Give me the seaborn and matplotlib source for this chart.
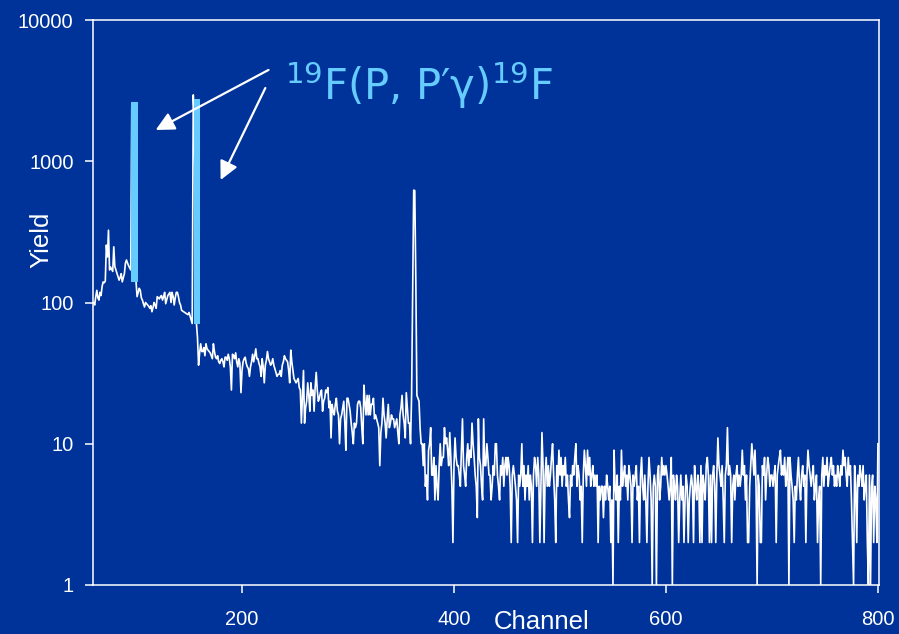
import numpy as np
import pandas as pd
import matplotlib
matplotlib.use("Agg")
import matplotlib.pyplot as plt
import seaborn as sns

# ---- data: counts per channel (channels 60..800) ----
counts_060 = [100, 96, 110, 122, 108, 104, 118, 112, 130, 140,
              138, 142, 255, 210, 325, 170, 178, 172, 166, 248,
              180, 170, 160, 152, 144, 150, 160, 140, 150, 160,
              190, 200, 190, 182, 176, 170, 2500, 2600, 500, 160,
              140, 110, 118, 126, 122, 108, 104, 98, 93, 100,
              98, 96, 94, 91, 95, 86, 92, 100, 96, 91,
              110, 108, 106, 110, 112, 104, 110, 118, 98, 105,
              112, 115, 118, 100, 118, 110, 96, 108, 118, 118,
              110, 100, 96, 88, 87, 86, 85, 84, 83, 82,
              85, 80, 75, 71, 2950, 2000, 400, 71, 56, 36]
counts_160 = [44, 51, 45, 45, 48, 42, 51, 47, 46, 45,
              44, 42, 40, 51, 45, 41, 40, 42, 38, 37,
              39, 40, 38, 35, 41, 41, 39, 43, 40, 35,
              24, 43, 42, 40, 44, 38, 35, 40, 37, 23,
              33, 38, 40, 41, 37, 35, 34, 30, 35, 38,
              43, 38, 42, 47, 40, 40, 37, 35, 30, 40,
              35, 27, 36, 39, 45, 40, 38, 36, 37, 40,
              36, 34, 32, 30, 31, 31, 33, 30, 36, 38,
              42, 40, 39, 38, 33, 27, 46, 38, 33, 29,
              28, 27, 28, 29, 25, 24, 14, 22, 33, 14]
counts_260 = [18, 20, 27, 22, 17, 27, 22, 24, 17, 25,
              32, 24, 20, 21, 23, 24, 17, 20, 21, 24,
              23, 25, 18, 20, 11, 19, 17, 16, 19, 21,
              17, 16, 10, 15, 16, 18, 20, 14, 9, 21,
              21, 19, 17, 14, 12, 10, 14, 13, 14, 19,
              20, 20, 18, 13, 10, 26, 20, 16, 22, 16,
              22, 16, 19, 19, 21, 15, 16, 15, 14, 13,
              7, 12, 14, 21, 16, 14, 11, 15, 19, 13,
              14, 16, 15, 15, 13, 14, 15, 12, 10, 16,
              18, 22, 16, 14, 11, 23, 18, 14, 14, 10]
counts_360 = [22, 110, 625, 620, 140, 22, 21, 20, 13, 10,
              10, 7, 10, 5, 6, 4, 9, 10, 13, 6,
              6, 8, 4, 7, 5, 4, 7, 10, 7, 8,
              8, 13, 10, 11, 9, 7, 12, 8, 5, 2,
              7, 11, 8, 7, 7, 6, 5, 9, 15, 7,
              6, 5, 8, 10, 7, 9, 8, 14, 10, 8,
              6, 5, 3, 15, 8, 7, 5, 4, 15, 7,
              7, 10, 8, 6, 6, 4, 5, 7, 6, 10,
              10, 6, 5, 4, 7, 6, 8, 5, 7, 8,
              6, 8, 7, 5, 2, 6, 7, 6, 5, 4]
counts_460 = [2, 6, 5, 6, 10, 5, 7, 4, 6, 5,
              7, 4, 6, 5, 2, 6, 8, 7, 5, 8,
              6, 2, 5, 12, 7, 2, 6, 8, 5, 7,
              5, 6, 8, 10, 6, 4, 2, 7, 5, 9,
              6, 8, 5, 7, 6, 8, 5, 6, 4, 3,
              6, 5, 7, 6, 8, 10, 5, 7, 6, 4,
              5, 2, 6, 9, 7, 5, 9, 6, 8, 5,
              6, 7, 5, 6, 5, 6, 2, 5, 4, 5,
              5, 3, 5, 4, 6, 5, 4, 5, 2, 4,
              1, 9, 5, 4, 6, 2, 5, 4, 9, 5]
counts_560 = [6, 7, 5, 6, 4, 7, 6, 5, 2, 6,
              5, 6, 7, 4, 5, 2, 6, 8, 5, 4,
              6, 4, 2, 5, 8, 6, 4, 1, 5, 6,
              5, 1, 6, 7, 4, 5, 8, 6, 7, 6,
              7, 6, 5, 4, 5, 8, 1, 6, 5, 4,
              6, 5, 2, 4, 6, 4, 5, 2, 4, 6,
              5, 2, 4, 5, 6, 5, 2, 7, 5, 4,
              6, 5, 2, 7, 2, 6, 5, 4, 7, 8,
              6, 2, 6, 2, 6, 7, 5, 2, 6, 11,
              7, 6, 5, 7, 4, 2, 6, 7, 13, 6]
counts_660 = [7, 6, 2, 5, 6, 4, 6, 7, 5, 6,
              5, 6, 9, 6, 7, 4, 6, 2, 2, 5,
              7, 10, 8, 6, 9, 5, 1, 6, 5, 2,
              2, 7, 6, 8, 4, 6, 8, 7, 5, 6,
              6, 5, 6, 7, 2, 6, 7, 8, 9, 6,
              7, 6, 8, 5, 6, 8, 1, 8, 6, 5,
              4, 2, 5, 4, 6, 8, 5, 4, 6, 7,
              5, 6, 2, 6, 9, 7, 6, 5, 6, 7,
              4, 5, 6, 2, 4, 5, 1, 6, 8, 5,
              7, 6, 8, 5, 6, 7, 8, 6, 7, 5]
counts_760 = [6, 5, 7, 6, 5, 7, 6, 9, 7, 8,
              6, 5, 8, 6, 7, 4, 2, 1, 7, 5,
              2, 6, 5, 7, 6, 5, 7, 4, 5, 6,
              2, 1, 6, 1, 5, 6, 2, 5, 4, 2,
              10]

first_channel = 60

# highlighted 19F lines
bar_channels = [98.5, 157.5]
bar_low = [140, 71]
bar_high = [2614, 2757]

x_ticks = [200, 400, 600, 800]
y_ticks = [1, 10, 100, 1000, 10000]
y_tick_labels = ["1", "10", "100", "1000", "10000"]
annotation_text = r"$^{19}$F(P, P′γ)$^{19}$F"

counts = (counts_060 + counts_160 + counts_260 + counts_360 + counts_460
          + counts_560 + counts_660 + counts_760)
channels = list(range(first_channel, first_channel + len(counts)))
df = pd.DataFrame({"Channel": channels, "Yield": counts})

BG = "#003399"
LIGHT = "#66CCFF"

fig = plt.figure(figsize=(8.99, 6.34), dpi=100, facecolor=BG)
ax = fig.add_axes([93 / 899, 49 / 634, 786 / 899, 565 / 634])
ax.set_facecolor(BG)

sns.lineplot(data=df, x="Channel", y="Yield", ax=ax, color="white",
             linewidth=1.2, estimator=None, zorder=2)

heights = [h - l for h, l in zip(bar_high, bar_low)]
ax.bar(bar_channels, heights, bottom=bar_low, width=6.0, color=LIGHT,
       zorder=3, linewidth=0)

ax.set_yscale("log")
ax.set_ylim(1, 10000)
ax.set_xlim(59.4, 801)
ax.set_yticks(y_ticks)
ax.set_yticklabels(y_tick_labels)
ax.yaxis.set_minor_locator(matplotlib.ticker.NullLocator())
ax.set_xticks(x_ticks)
ax.set_xticklabels([str(t) for t in x_ticks])

for s in ax.spines.values():
    s.set_color("white")
    s.set_linewidth(1.1)

ax.tick_params(axis="y", which="major", direction="out", length=6, width=1.1,
               color="white", labelcolor="white", labelsize=14.5, pad=8,
               left=True, right=False)
ax.tick_params(axis="x", which="major", direction="out", length=6, width=1.1,
               color="white", labelcolor="white", labelsize=14.5, pad=12,
               bottom=True, top=False)
for lab in ax.get_xticklabels() + ax.get_yticklabels():
    lab.set_fontfamily("Liberation Sans")

ax.set_xlabel("")
ax.set_ylabel("")
ax.text((542 - 93) / 786, -0.066, "Channel", transform=ax.transAxes,
        ha="center", va="center", color="white", fontsize=18.5,
        family="Liberation Sans")
ax.text(-0.065, 0.611, "Yield", transform=ax.transAxes, rotation=90,
        ha="center", va="center", color="white", fontsize=18.5,
        family="Liberation Sans")

# annotation
ax.text(241, 2715, annotation_text, color=LIGHT, fontsize=30,
        ha="left", va="baseline", family="DejaVu Sans", zorder=5)
arrow_kw = dict(arrowstyle="-|>", color="white", lw=1.6, mutation_scale=28,
                shrinkA=0, shrinkB=0)
ax.annotate("", xy=(118.5, 1664), xytext=(225, 4430), arrowprops=arrow_kw,
            zorder=5)
ax.annotate("", xy=(179.8, 737), xytext=(222, 3300), arrowprops=arrow_kw,
            zorder=5)

fig.savefig("out.png", dpi=100, facecolor=BG)
